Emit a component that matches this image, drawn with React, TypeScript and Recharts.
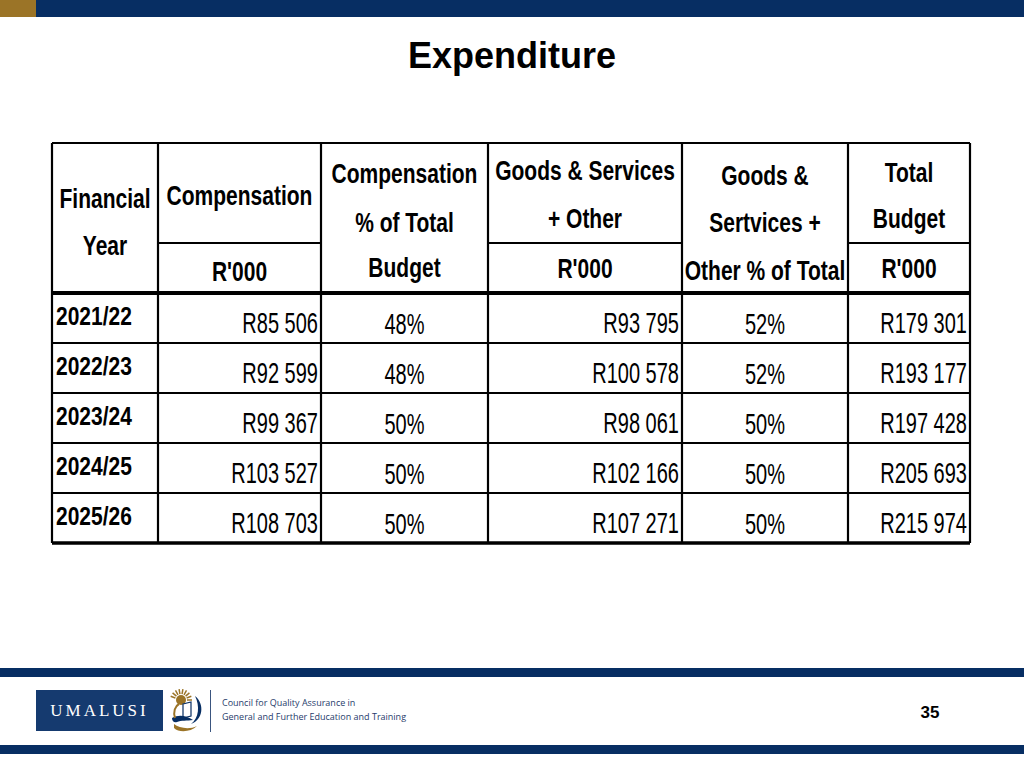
import React from "react"
import { ComposedChart, Scatter, XAxis, YAxis, ReferenceLine } from "recharts"

// table values
const YEARS = ["2021/22", "2022/23", "2023/24", "2024/25", "2025/26"]
const COMPENSATION = [85506, 92599, 99367, 103527, 108703]
const COMPENSATION_PCT = [48, 48, 50, 50, 50]
const GOODS_SERVICES = [93795, 100578, 98061, 102166, 107271]
const GOODS_SERVICES_PCT = [52, 52, 50, 50, 50]
const TOTAL_BUDGET = [179301, 193177, 197428, 205693, 215974]

const HEADERS = [
   ["Financial", "Year"],
   ["Compensation", "R'000"],
   ["Compensation", "% of Total", "Budget"],
   ["Goods & Services", "+ Other", "R'000"],
   ["Goods &", "Sertvices +", "Other % of Total"],
   ["Total", "Budget", "R'000"],
]

// layout (pixels inside the table box, 50px per row unit)
const COL_WIDTHS = [106, 163, 167, 194, 166, 122]
const EDGES = COL_WIDTHS.reduce((acc, w) => [...acc, acc[acc.length - 1] + w], [0])
const TABLE_W = EDGES[EDGES.length - 1]
const HEADER_BASELINES = [[65, 112], [62, 138], [40, 89, 134], [37, 85, 135], [42, 89, 137], [39, 85, 135]]
const ROW_PX = 50
const HEADER_ROWS = 3
const FONT = "'Liberation Sans', Arial, sans-serif"
const NAVY = "#072e63"
const GOLD = "#9b7427"

const money = (v: number) => `R${Math.floor(v / 1000)} ${String(v % 1000).padStart(3, "0")}`
const rowBase = (r: number, px: number) => HEADER_ROWS + r + px / ROW_PX

// squeeze a line so it stays inside its cell
let measureCtx: CanvasRenderingContext2D | null = null
const textWidth = (s: string, size: number, weight: string | number) => {
   if (!measureCtx) measureCtx = document.createElement("canvas").getContext("2d")
   if (!measureCtx) return 0
   measureCtx.font = `${weight} ${size}px 'Liberation Sans'`
   return measureCtx.measureText(s).width
}

const headerCells = HEADERS.flatMap((lines, c) =>
   lines.map((label, i) => ({ x: (EDGES[c] + EDGES[c + 1]) / 2, y: HEADER_BASELINES[c][i] / ROW_PX, label, maxW: COL_WIDTHS[c] - 4 }))
)
const yearCells = YEARS.map((label, r) => ({ x: EDGES[0] + 4, y: rowBase(r, 32), label }))
const moneyCells = [COMPENSATION, GOODS_SERVICES, TOTAL_BUDGET].flatMap((vals, k) => {
   const col = [1, 3, 5][k]
   return vals.map((v, r) => ({ x: EDGES[col + 1] - 3, y: rowBase(r, 40), label: money(v) }))
})
const pctCells = [COMPENSATION_PCT, GOODS_SERVICES_PCT].flatMap((vals, k) => {
   const col = [2, 4][k]
   return vals.map((v, r) => ({ x: (EDGES[col] + EDGES[col + 1]) / 2, y: rowBase(r, 41), label: `${v}%` }))
})

const textShape = (anchor: string, size: number, weight: string | number, sx: number) => (props: any) => {
   const { cx, cy, payload } = props
   let scale = sx
   if (payload.maxW) {
      const w = textWidth(payload.label, size, weight)
      if (w * scale > payload.maxW) scale = payload.maxW / w
   }
   return (
      <text
         transform={`translate(${cx},${cy}) scale(${scale},1)`}
         textAnchor={anchor}
         fontFamily={FONT}
         fontSize={size}
         fontWeight={weight}
         fill="#000"
      >
         {payload.label}
      </text>
   )
}

const Emblem = () => (
   <svg width={36} height={46} viewBox="0 0 36 46" style={{ position: "absolute", left: 169, top: 688 }}>
      {Array.from({ length: 9 }).map((_, i) => {
         const a = (-160 + i * 20) * Math.PI / 180
         return <line key={i} x1={12 + Math.cos(a) * 6} y1={12 + Math.sin(a) * 6} x2={12 + Math.cos(a) * 11} y2={12 + Math.sin(a) * 11} stroke={GOLD} strokeWidth={1.5} />
      })}
      <circle cx={12} cy={12} r={5} fill={GOLD} />
      <path d="M26 8 C36 16 34 32 22 36 C30 30 31 18 26 8 Z" fill={NAVY} />
      <path d="M14 16 L22 14 L22 28 L14 30 Z" fill="#fff" stroke={NAVY} strokeWidth={1.2} />
      <path d="M3 30 C10 26 18 28 24 32 C18 33 12 32 8 34 C5 35 3 33 3 30 Z" fill={NAVY} />
      <path d="M5 36 C10 40 20 42 28 38 C22 44 10 45 5 40 Z" fill={GOLD} />
      <path d="M6 30 C4 24 6 18 10 16" fill="none" stroke={GOLD} strokeWidth={2} />
   </svg>
)

const ExpenditureTable = () => (
   <ComposedChart width={1024} height={766} margin={{ top: 143, right: 54, bottom: 223, left: 52 }}>
      <XAxis type="number" dataKey="x" domain={[0, TABLE_W]} hide />
      <YAxis type="number" dataKey="y" domain={[0, HEADER_ROWS + YEARS.length]} reversed hide />
      {EDGES.map((e) => (
         <ReferenceLine key={"v" + e} x={e} stroke="#000" strokeWidth={2.2} />
      ))}
      <ReferenceLine y={0} stroke="#000" strokeWidth={2.2} />
      {YEARS.map((_, r) => (
         <ReferenceLine key={"h" + r} y={HEADER_ROWS + r + 1} stroke="#000" strokeWidth={r === YEARS.length - 1 ? 3.5 : 2} />
      ))}
      <ReferenceLine y={HEADER_ROWS} stroke="#000" strokeWidth={4} />
      {[1, 3, 5].map((c) => (
         <ReferenceLine key={"s" + c} segment={[{ x: EDGES[c], y: 2 }, { x: EDGES[c + 1], y: 2 }]} stroke="#000" strokeWidth={2} />
      ))}
      <Scatter data={headerCells} isAnimationActive={false} shape={textShape("middle", 28, 700, 0.75)} />
      <Scatter data={yearCells} isAnimationActive={false} shape={textShape("start", 25, 700, 0.84)} />
      <Scatter data={moneyCells} isAnimationActive={false} shape={textShape("end", 29, 400, 0.69)} />
      <Scatter data={pctCells} isAnimationActive={false} shape={textShape("middle", 29, 400, 0.69)} />
   </ComposedChart>
)

export default function App() {
   return (
      <div style={{ position: "absolute", left: 0, top: 0, width: 1024, height: 766, background: "#fff", overflow: "hidden" }}>
         <div style={{ position: "absolute", left: 0, top: 0, width: 1024, height: 17, background: NAVY }} />
         <div style={{ position: "absolute", left: 0, top: 0, width: 36, height: 17, background: GOLD }} />
         <div
            style={{
               position: "absolute", left: 0, top: 34, width: 1024, textAlign: "center",
               fontFamily: "'Liberation Sans', Arial, sans-serif", fontWeight: 700, fontSize: 36, lineHeight: "44px", color: "#000",
            }}
         >
            Expenditure
         </div>
         <div style={{ position: "absolute", left: 0, top: 0 }}>
            <ExpenditureTable />
         </div>
         <div style={{ position: "absolute", left: 0, top: 668, width: 1024, height: 9, background: NAVY }} />
         <div style={{ position: "absolute", left: 0, top: 745, width: 1024, height: 9, background: NAVY }} />
         <div
            style={{
               position: "absolute", left: 36, top: 690, width: 127, height: 41, background: "#153a6f", color: "#fff",
               fontFamily: "'Liberation Serif', serif", fontSize: 17, letterSpacing: 3, lineHeight: "41px", textAlign: "center",
            }}
         >
            UMALUSI
         </div>
         <Emblem />
         <div style={{ position: "absolute", left: 210, top: 690, width: 1, height: 42, background: "#3a557f" }} />
         <div
            style={{
               position: "absolute", left: 222, top: 696, fontFamily: "'Open Sans', 'Liberation Sans', sans-serif",
               fontSize: 9, lineHeight: "14px", color: "#1f3c6b", whiteSpace: "nowrap",
            }}
         >
            Council for Quality Assurance in
            <br />
            General and Further Education and Training
         </div>
         <div
            style={{
               position: "absolute", left: 900, top: 703, width: 60, textAlign: "center",
               fontFamily: "'Liberation Sans', Arial, sans-serif", fontWeight: 700, fontSize: 17, color: "#000",
            }}
         >
            35
         </div>
      </div>
   )
}
